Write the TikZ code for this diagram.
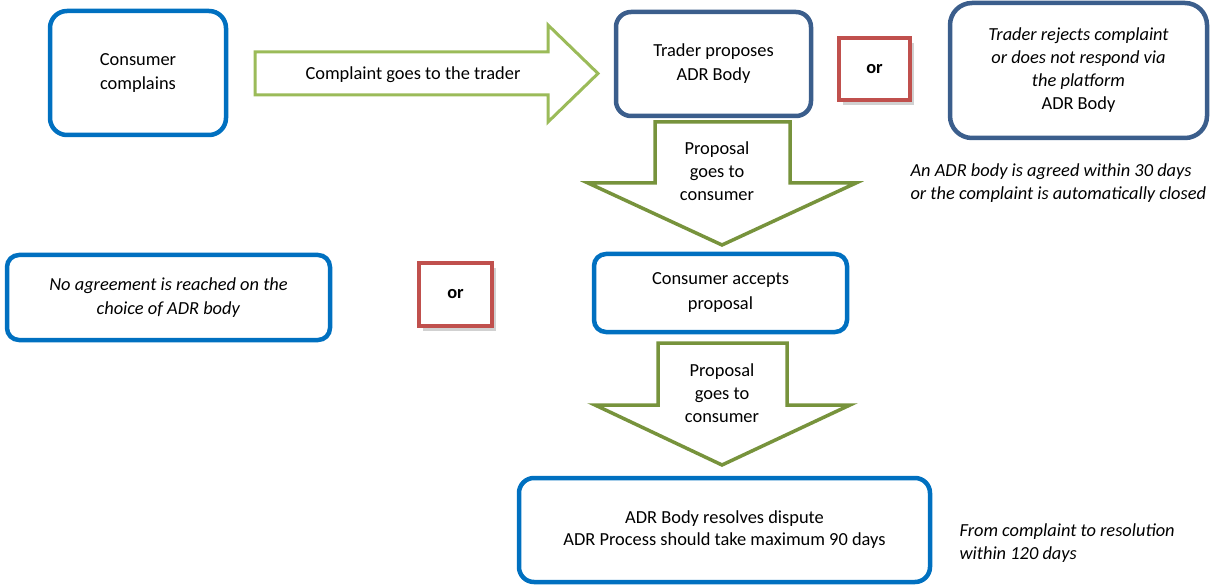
\documentclass[tikz,border=0pt]{standalone}
\usepackage{fontspec}
\setmainfont{Carlito}
\usetikzlibrary{shadows}

\definecolor{stepblue}{HTML}{0070C0}
\definecolor{adrblue}{HTML}{3B5E8C}
\definecolor{lightgreen}{HTML}{9BBB59}
\definecolor{darkgreen}{HTML}{77933C}
\definecolor{orred}{HTML}{C0504D}

\begin{document}
\begin{tikzpicture}[x=1pt, y=-1pt,
    stepbox/.style={rectangle, draw=stepblue, line width=4.5pt, rounded corners=15pt,
                    align=center, inner sep=0pt, font=\fontsize{18.4}{24}\selectfont},
    adrbox/.style={stepbox, draw=adrblue},
    orbox/.style={rectangle, draw=orred, line width=3.5pt, fill=white, inner sep=0pt,
                  font=\fontsize{18.4}{24}\selectfont\bfseries,
                  drop shadow={shadow xshift=4pt, shadow yshift=-5pt, opacity=0.3, fill=black!60}},
    flow/.style={line width=3.5pt, line join=miter, fill=white},
    lbl/.style={align=center, font=\fontsize{18.4}{23}\selectfont},
    note/.style={align=left, font=\fontsize{18.4}{22.5}\selectfont\itshape},
  ]
  \useasboundingbox (0,0) rectangle (1210,585);

  % Top row
  \node[stepbox, minimum width=176pt, minimum height=124pt, rounded corners=17pt] (complains) at (138,73)
    {Consumer\\complains};
  \node[adrbox, minimum width=195pt, minimum height=104pt] (proposes) at (713.5,64)
    {Trader proposes\\ADR Body};
  \node[orbox, minimum width=71pt, minimum height=62pt] (or1) at (874.5,69) {or};
  \node[adrbox, minimum width=257pt, minimum height=135pt, rounded corners=22pt,
        font=\fontsize{18.4}{23}\selectfont] (rejects) at (1078.5,70.5)
    {\textit{Trader rejects complaint}\\\textit{or does not respond via}\\\textit{the platform}\\ADR Body};
  \node[note, anchor=west] (thirty) at (907,183)
    {An ADR body is agreed within 30 days\\or the complaint is automatically closed};

  % Complaint goes to the trader
  \draw[flow, draw=lightgreen, line width=3pt] (255,52) -- (548,52) -- (548,25) -- (598,73.5)
    -- (548,122) -- (548,95) -- (255,95) -- cycle;
  \node[lbl] (totrader) at (413,75) {Complaint goes to the trader};

  % Proposal goes to consumer (1)
  \draw[flow, draw=darkgreen] (655,122) -- (790,122) -- (790,183) -- (856,183)
    -- (722,245) -- (588,183) -- (655,183) -- cycle;
  \node[lbl] (toconsumer1) at (717,171) {Proposal\\goes to\\consumer};

  % Middle row
  \node[stepbox, minimum width=323pt, minimum height=85pt, rounded corners=12pt] (noagree) at (168.5,297.5)
    {\textit{No agreement is reached on the}\\\textit{choice of ADR body}};
  \node[orbox, minimum width=73pt, minimum height=63pt] (or2) at (455.5,294.5) {or};
  \node[stepbox, minimum width=253pt, minimum height=78pt, rounded corners=12pt,
        font=\fontsize{18.4}{25}\selectfont] (accepts) at (720.5,293)
    {Consumer accepts\\proposal};

  % Proposal goes to consumer (2)
  \draw[flow, draw=darkgreen] (658,343) -- (787,343) -- (787,405) -- (850,405)
    -- (722,465) -- (595,405) -- (658,405) -- cycle;
  \node[lbl] (toconsumer2) at (722,393) {Proposal\\goes to\\consumer};

  % Bottom row
  \node[stepbox, minimum width=411pt, minimum height=104pt, font=\fontsize{18.4}{22}\selectfont]
    (resolves) at (724.5,530)
    {ADR Body resolves dispute\\ADR Process should take maximum 90 days};
  \node[note, anchor=west] (hundred) at (956,543)
    {From complaint to resolution\\within 120 days};

\end{tikzpicture}
\end{document}
